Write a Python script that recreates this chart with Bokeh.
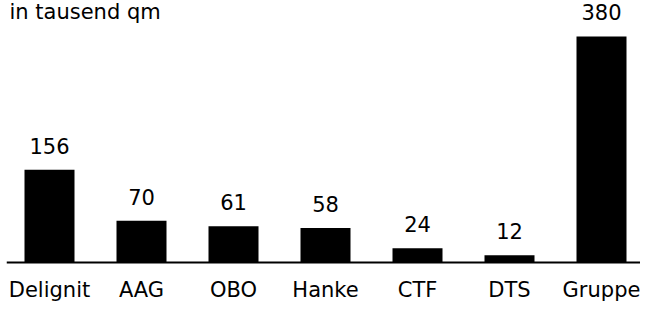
from bokeh.plotting import figure
from bokeh.models import Range1d, Span, Label, ColumnDataSource
from bokeh.core.properties import value
from bokeh.embed import file_html
from bokeh.resources import INLINE

categories = ["Delignit", "AAG", "OBO", "Hanke", "CTF", "DTS", "Gruppe"]
values = [156, 70, 61, 58, 24, 12, 380]
value_labels = ["156", "70", "61", "58", "24", "12", "380"]
unit_label = "in tausend qm"

W, H = 640, 303
LEFT = 6              # frame starts here (baseline starts here)
px_per_unit_y = 0.595
base_y = 262          # canvas px of the baseline
spacing = 92.0        # px between bar centres
first_center = 49     # canvas px of the first bar centre
bar_px = 50
FONT = "DejaVu Sans"
FS = "21px"

x_start = -(first_center - LEFT) / spacing
x_end = (W - first_center) / spacing
y_end = base_y / px_per_unit_y
y_start = -(H - base_y) / px_per_unit_y

src = ColumnDataSource(dict(
    x=list(range(len(categories))),
    v=values,
    lbl=value_labels,
    cat=categories,
    zero=[0] * len(categories),
))

p = figure(width=W, height=H,
           x_range=Range1d(x_start, x_end), y_range=Range1d(y_start, y_end),
           output_backend="svg", toolbar_location=None,
           x_axis_location=None, y_axis_location=None, min_border=0)
p.min_border_left = LEFT
p.grid.visible = False
p.outline_line_color = None
p.background_fill_color = "white"
p.border_fill_color = "white"

p.vbar(x="x", top="v", bottom=0, width=bar_px / spacing, source=src,
       fill_color="black", line_color=None)

p.add_layout(Span(location=0, dimension="width", line_color="black", line_width=2))

p.text(x="x", y="v", text="lbl", source=src, text_align="center",
       text_baseline="alphabetic", y_offset=-24,
       text_font=value(FONT), text_font_size=FS, text_color="black")

p.text(x="x", y="zero", text="cat", source=src, text_align="center",
       text_baseline="alphabetic", y_offset=27,
       text_font=value(FONT), text_font_size=FS, text_color="black")

p.add_layout(Label(x=9 - LEFT, y=H - 11, x_units="screen", y_units="screen",
                   text=unit_label, text_align="left", text_baseline="alphabetic",
                   text_font=FONT, text_font_size=FS, text_color="black"))

open("out.html", "w").write(file_html(p, INLINE))
